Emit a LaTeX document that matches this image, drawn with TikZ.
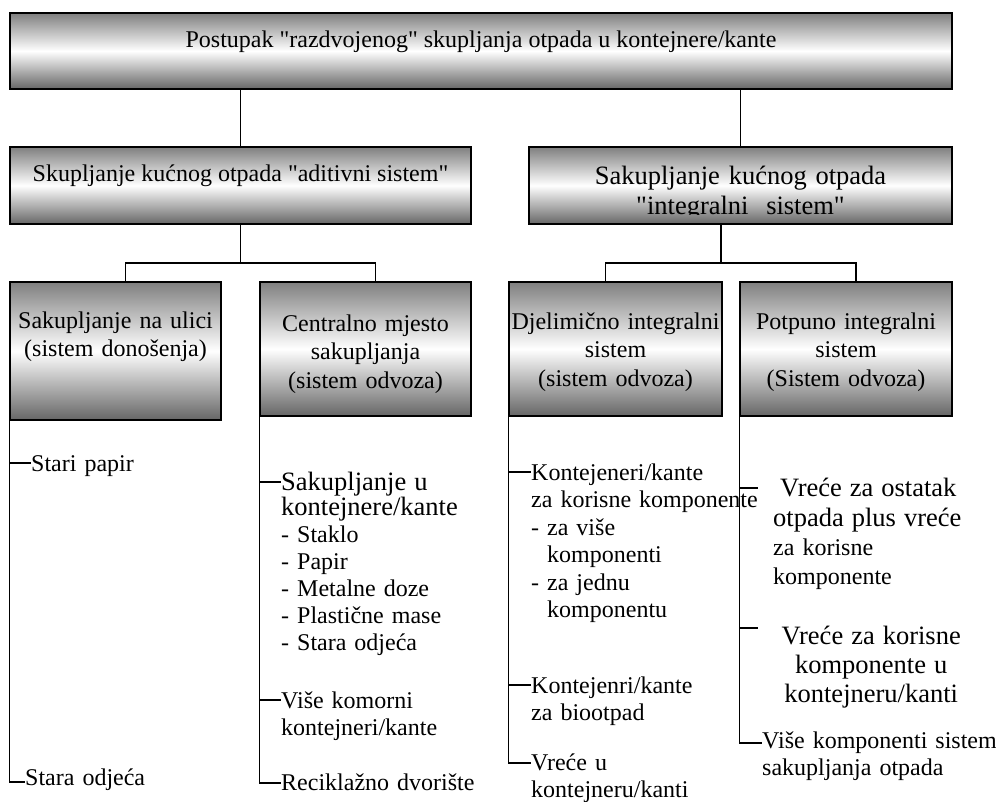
\documentclass[tikz,border=0pt]{standalone}
\usepackage{fontspec}
\setmainfont{Liberation Serif}
\usetikzlibrary{calc}

\newcommand{\sitno}{\fontsize{24}{27.5}\selectfont}
\newcommand{\krupno}{\fontsize{26.5}{29}\selectfont}
\newcommand{\nav}{\textquotedbl}

\tikzset{
	okvir/.style={draw, line width=1.5pt, top color=black!50, bottom color=black!60, middle color=white, inner sep=0pt, font=\sitno},
	kutija/.style={okvir, minimum height=134pt, align=center, text height=16pt, text depth=56pt, font=\fontsize{24}{28.5}\selectfont},
	veza/.style={line width=1.5pt},
	stavka/.style={anchor=base west, inner sep=0pt, align=left, text width=240pt, font=\sitno},
}

\begin{document}
\begin{tikzpicture}[x=1pt, y=-1pt]
	\useasboundingbox (0,0) rectangle (996,801);
	
	%%%%% KUTIJE %%%%%
	\node[okvir, minimum width=942pt, minimum height=76pt, text depth=24pt] (postupak) at (481,51) {Postupak \nav razdvojenog\nav{} skupljanja otpada u kontejnere/kante};
	
	\node[okvir, minimum width=461pt, minimum height=77pt, text depth=24pt] (aditiv) at (240.5,185.5) {Skupljanje kućnog otpada \nav aditivni sistem\nav};
	
	\node[okvir, minimum width=423pt, minimum height=77pt] (integral) at (740.5,185.5) {};
	\begin{scope}
		\clip (integral.north west) rectangle ([yshift=10pt]integral.south east);
		\node[font=\fontsize{26.5}{30}\selectfont, text width=415pt, align=center, inner sep=0pt, text height=17pt, text depth=18.6pt] (integral-t) at (integral) {Sakupljanje kućnog otpada\\\nav integralni\ \ sistem\nav};
	\end{scope}
	
	\node[kutija, minimum width=211pt, text width=207pt, minimum height=138pt, text depth=62pt] (ulica) at (115.5,351) {Sakupljanje na ulici\\(sistem donošenja)};
	\node[kutija, minimum width=211pt, text width=207pt, text depth=52pt] (centar) at (365.5,349) {Centralno mjesto\\sakupljanja\\(sistem odvoza)};
	\node[kutija, minimum width=213pt, text width=211pt] (djelim) at (615.5,349) {Djelimično integralni\\sistem\\(sistem odvoza)};
	\node[kutija, minimum width=212pt, text width=208pt] (potpuno) at (846,349) {Potpuno integralni\\sistem\\(Sistem odvoza)};
	
	%%%%% VEZE %%%%%
	\draw[veza] (postupak.south -| aditiv.north) -- (aditiv.north);
	\draw[veza] (postupak.south -| integral.north) -- (integral.north);
	\draw[veza] (aditiv.south) -- ++(0,38) -| ([xshift=10pt]ulica.north);
	\draw[veza] (aditiv.south) -- ++(0,38) -| ([xshift=10pt]centar.north);
	\draw[veza] ([xshift=-19.5pt]integral.south) -- ++(0,38) -| ([xshift=-10pt]djelim.north);
	\draw[veza] ([xshift=-19.5pt]integral.south) -- ++(0,38) -| ([xshift=10pt]potpuno.north);
	
	%%%%% STAVKE %%%%%
	\node[stavka] (papir) at (31,471) {Stari papir};
	\node[stavka] (odjeca) at (25,785) {Stara odjeća};
	
	\node[stavka] (sakup) at (281,490) {{\fontsize{26.5}{23}\selectfont Sakupljanje u\\kontejnere/kante\par}{\fontsize{24}{27}\selectfont - Staklo\\- Papir\\- Metalne doze\\- Plastične mase\\- Stara odjeća\par}};
	\node[stavka] (komorni) at (281,708) {Više komorni\\kontejneri/kante};
	\node[stavka] (dvoriste) at (281,790) {Reciklažno dvorište};
	
	\node[stavka] (kante) at (531,480) {Kontejeneri/kante\\za korisne komponente\\- za više\\\phantom{- }komponenti\\- za jednu\\\phantom{- }komponentu};
	\node[stavka] (bio) at (531,693) {Kontejenri/kante\\za biootpad};
	\node[stavka] (vrece) at (531,770) {Vreće u\\kontejneru/kanti};
	
	\node[stavka, inner xsep=15pt, text width=210pt] (ostatak) at (758,496) {{\fontsize{26.5}{30}\selectfont\hspace*{7pt}Vreće za ostatak\\otpada plus vreće\par}{\fontsize{24}{29}\selectfont za korisne\\komponente\par}};
	\node[stavka, align=center, text width=226pt] (korisne) at (758,644) {\krupno Vreće za korisne\\komponente u\\kontejneru/kanti\par};
	\node[stavka] (visekomp) at (762,748) {Više komponenti sistem\\sakupljanja otpada};
	
	\draw[veza] (ulica.south west) |- ([yshift=8pt]papir.base west);
	\draw[veza] (ulica.south west) |- ([yshift=3pt]odjeca.base west);
	\draw[veza] (centar.south west) |- ([yshift=8pt]sakup.base west);
	\draw[veza] (centar.south west) |- ([yshift=8pt]komorni.base west);
	\draw[veza] (centar.south west) |- ([yshift=7pt]dvoriste.base west);
	\draw[veza] (djelim.south west) |- ([yshift=8pt]kante.base west);
	\draw[veza] (djelim.south west) |- ([yshift=8pt]bio.base west);
	\draw[veza] (djelim.south west) |- ([yshift=7pt]vrece.base west);
	\draw[veza] (potpuno.south west) |- ([yshift=8pt]ostatak.base west);
	\draw[veza] (potpuno.south west) |- ([yshift=16pt]korisne.base west);
	\draw[veza] (potpuno.south west) |- ([yshift=5pt]visekomp.base west);
\end{tikzpicture}
\end{document}
